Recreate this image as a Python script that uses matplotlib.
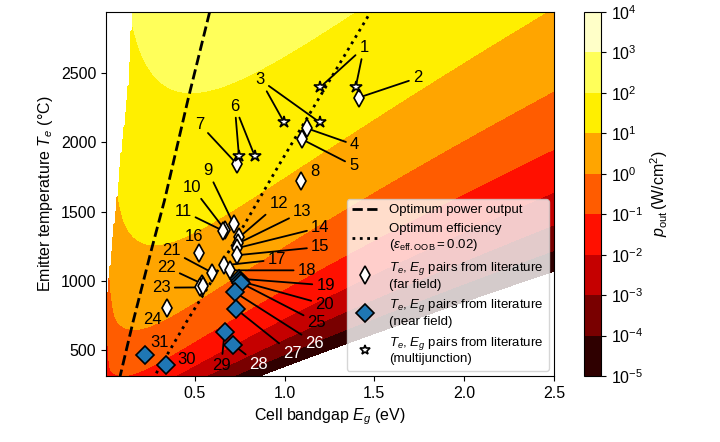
import numpy as np
import matplotlib
matplotlib.use('Agg')
import matplotlib.pyplot as plt
from matplotlib.lines import Line2D

plt.rcParams['font.family'] = ['Liberation Sans', 'DejaVu Sans']
plt.rcParams['mathtext.fontset'] = 'custom'
plt.rcParams['mathtext.rm'] = 'Liberation Sans'
plt.rcParams['mathtext.it'] = 'Liberation Sans:italic'
plt.rcParams['mathtext.bf'] = 'Liberation Sans:bold'

# ---------------- data ----------------
# literature pairs (far field, white diamonds)
far_Eg = [1.414, 1.125, 1.097, 0.735, 1.094, 0.717, 0.667, 0.657, 0.746, 0.742,
          0.733, 0.737, 0.523, 0.663, 0.698, 0.596, 0.540, 0.527, 0.548, 0.347]
far_Te = [2324, 2102, 2023, 1844, 1722, 1409, 1372, 1364, 1315, 1273,
          1237, 1187, 1203, 1114, 1078, 1062, 982, 955, 968, 809]
# near field (blue diamonds)
near_Eg = [0.746, 0.752, 0.760, 0.722, 0.728, 0.713, 0.666, 0.338, 0.225]
near_Te = [1018, 1000, 985, 921, 801, 543, 632, 398, 471]
# multijunction (stars)
mj_Eg = [1.199, 1.396, 0.997, 1.195, 0.746, 0.834]
mj_Te = [2399, 2399, 2146, 2146, 1904, 1902]

# annotations: label, target (Eg, Te), text position (Eg, Te)
ann_label = ['1', '1', '2', '3', '3', '4', '5', '6', '6', '7', '8', '9', '10', '11',
             '12', '13', '14', '15', '16', '17', '18', '19', '20', '21', '22', '23',
             '24', '25', '26', '27', '28', '29', '30', '31']
ann_Eg = [1.199, 1.396, 1.414, 0.997, 1.195, 1.125, 1.097, 0.746, 0.834, 0.735,
          1.094, 0.717, 0.667, 0.657, 0.746, 0.742, 0.733, 0.737, 0.523, 0.663,
          0.698, 0.746, 0.752, 0.596, 0.540, 0.527, 0.347, 0.760, 0.722, 0.728,
          0.713, 0.666, 0.338, 0.225]
ann_Te = [2399, 2399, 2324, 2146, 2146, 2102, 2023, 1904, 1902, 1844,
          1722, 1409, 1372, 1364, 1315, 1273, 1237, 1187, 1203, 1114,
          1078, 1018, 1000, 1062, 982, 955, 809, 985, 921, 801,
          543, 632, 398, 471]
txt_Eg = [1.442, 1.442, 1.741, 0.865, 0.865, 1.39, 1.385, 0.723, 0.723, 0.527,
          1.168, 0.573, 0.487, 0.434, 0.967, 1.099, 1.199, 1.199, 0.494, 0.958,
          1.125, 1.229, 1.223, 0.370, 0.342, 0.314, 0.264, 1.180, 1.168, 1.043,
          0.857, 0.648, 0.457, 0.305]
txt_Te = [2685, 2685, 2466, 2452, 2452, 1982, 1832, 2263, 2263, 2133,
          1789, 1796, 1676, 1505, 1560, 1500, 1387, 1247, 1324, 1156,
          1078, 970, 832, 1218, 1102, 953, 722, 704, 553, 476,
          398, 391, 435, 560]
no_line = {'8', '16', '24', '30', '31'}
white_text = {'26', '27', '28'}

# optimum lines
optP_Eg = [0.080, 0.156, 0.258, 0.332, 0.462, 0.583, 0.60]
optP_Te = [290, 704, 1222, 1584, 2307, 2941, 3000]
optE_Eg = [0.265, 0.453, 0.574, 0.970, 1.437, 1.479, 1.51]
optE_Te = [290, 704, 957, 1840, 2850, 2941, 3000]

# left white (not computed) region boundary
mask_Te = [300, 860, 1222, 1600, 2000, 2452, 2960]
mask_Eg = [0.0, 0.006, 0.035, 0.065, 0.095, 0.132, 0.149]

cbar_exp = [-5, -4, -3, -2, -1, 0, 1, 2, 3, 4]

# ---------------- detailed-balance power density map ----------------
q = 1.602176634e-19
h = 6.62607015e-34
c = 2.99792458e8
kB = 8.617333262e-5
Tc = 300.0
pref = 2 * np.pi / (h ** 3 * c ** 2) * q ** 3  # for (kT in eV)^3


def flux(Eg, mu, T, kmax):
    kT = kB * T
    x0 = (Eg - mu) / kT
    a = mu / kT
    s = np.zeros(np.broadcast(Eg, mu, T).shape)
    b = a + x0
    for k in range(1, kmax + 1):
        e = np.exp(-k * x0)
        s += e * (b * b / k + 2 * b / k ** 2 + 2.0 / k ** 3)
        if e.max() < 1e-14:
            break
    return pref * kT ** 3 * s


Eg_grid = np.linspace(0.003, 2.5, 320)
Te_grid = np.linspace(280, 2980, 240)
TeK = Te_grid + 273.15

EE, TT = np.meshgrid(Eg_grid, TeK, indexing='ij')
phi_e = flux(EE, 0.0, TT, 4000)

kTc = kB * Tc
frac = np.linspace(0, 1, 500)
Vmax = np.clip(Eg_grid - 0.3 * kTc, 0, None)
V = Vmax[:, None] * frac[None, :]
phi_c = flux(Eg_grid[:, None], V, Tc, 400)

P = np.empty((len(Eg_grid), len(Te_grid)))
for j in range(len(Te_grid)):
    p = V * q * (phi_e[:, j][:, None] - phi_c)
    P[:, j] = p.max(axis=1) / 1e4  # W/cm^2

P = np.where(P > 0, P, 1e-30)
logP = np.log10(P)
bound = np.interp(Te_grid, mask_Te, mask_Eg)
logP = np.where(Eg_grid[:, None] < bound[None, :], np.nan, logP)

# ---------------- figure ----------------
fig = plt.figure(figsize=(7.2, 4.42), dpi=100)
ax = fig.add_axes([106 / 720, 66 / 442, 448 / 720, 364 / 442])
cax = fig.add_axes([584 / 720, 66 / 442, 17 / 720, 364 / 442])

cs = ax.contourf(Eg_grid, Te_grid, logP.T, levels=cbar_exp, cmap='hot', zorder=0)

ax.plot(optP_Eg, optP_Te, color='k', ls='--', lw=2, zorder=2)
ax.plot(optE_Eg, optE_Te, color='k', ls=':', lw=2, zorder=2)

drawn = set()
for lab, xe, ye, xt, yt in zip(ann_label, ann_Eg, ann_Te, txt_Eg, txt_Te):
    col = 'white' if lab in white_text else 'black'
    if lab in drawn:
        col = 'none'
    drawn.add(lab)
    if lab in no_line:
        ax.text(xt, yt, lab, fontsize=12, ha='center', va='center', color=col, zorder=3)
    else:
        ax.annotate(lab, xy=(xe, ye), xytext=(xt, yt), fontsize=12, ha='center',
                    va='center', color=col, zorder=3,
                    arrowprops=dict(arrowstyle='-', color='k', lw=1.3,
                                    shrinkA=1, shrinkB=3))

ax.plot(far_Eg, far_Te, ls='none', marker='d', ms=9, mfc='white', mec='k', mew=1.2, zorder=4)
ax.plot(near_Eg, near_Te, ls='none', marker='D', ms=9, mfc='#1f77b4', mec='k', mew=1.2, zorder=4)
ax.plot(mj_Eg, mj_Te, ls='none', marker='*', ms=9, mfc='white', mec='k', mew=1.2, zorder=5)

ax.set_xlim(0.006, 2.5)
ax.set_ylim(316, 2941)
ax.set_xticks([0.5, 1.0, 1.5, 2.0, 2.5])
ax.set_yticks([500, 1000, 1500, 2000, 2500])
ax.tick_params(labelsize=11.5)
ax.set_xlabel('Cell bandgap $E_g$ (eV)', fontsize=11.5)
ax.set_ylabel('Emitter temperature $T_e$ (°C)', fontsize=11.5)

handles = [
    Line2D([], [], color='k', ls='--', lw=2),
    Line2D([], [], color='k', ls=':', lw=2),
    Line2D([], [], ls='none', marker='d', ms=9, mfc='white', mec='k', mew=1.2),
    Line2D([], [], ls='none', marker='D', ms=9, mfc='#1f77b4', mec='k', mew=1.2),
    Line2D([], [], ls='none', marker='*', ms=7, mfc='white', mec='k', mew=1.2),
]
labels = [
    'Optimum power output',
    'Optimum efficiency\n($\\varepsilon_{\\rm eff.OOB} = 0.02$)',
    '$T_e$, $E_g$ pairs from literature\n(far field)',
    '$T_e$, $E_g$ pairs from literature\n(near field)',
    '$T_e$, $E_g$ pairs from literature\n(multijunction)',
]
ax.legend(handles, labels, loc='lower right', fontsize=9.5, framealpha=0.8,
          handlelength=2.0, borderaxespad=0.4)

cb = fig.colorbar(cs, cax=cax, ticks=cbar_exp)
cb.ax.set_yticklabels(['$10^{%d}$' % e for e in cbar_exp])
cb.ax.tick_params(labelsize=11.5)
cb.set_label('$p_{\\rm out}\\,$(W/cm$^2$)', fontsize=11.5)

fig.savefig('out.png', dpi=100)
